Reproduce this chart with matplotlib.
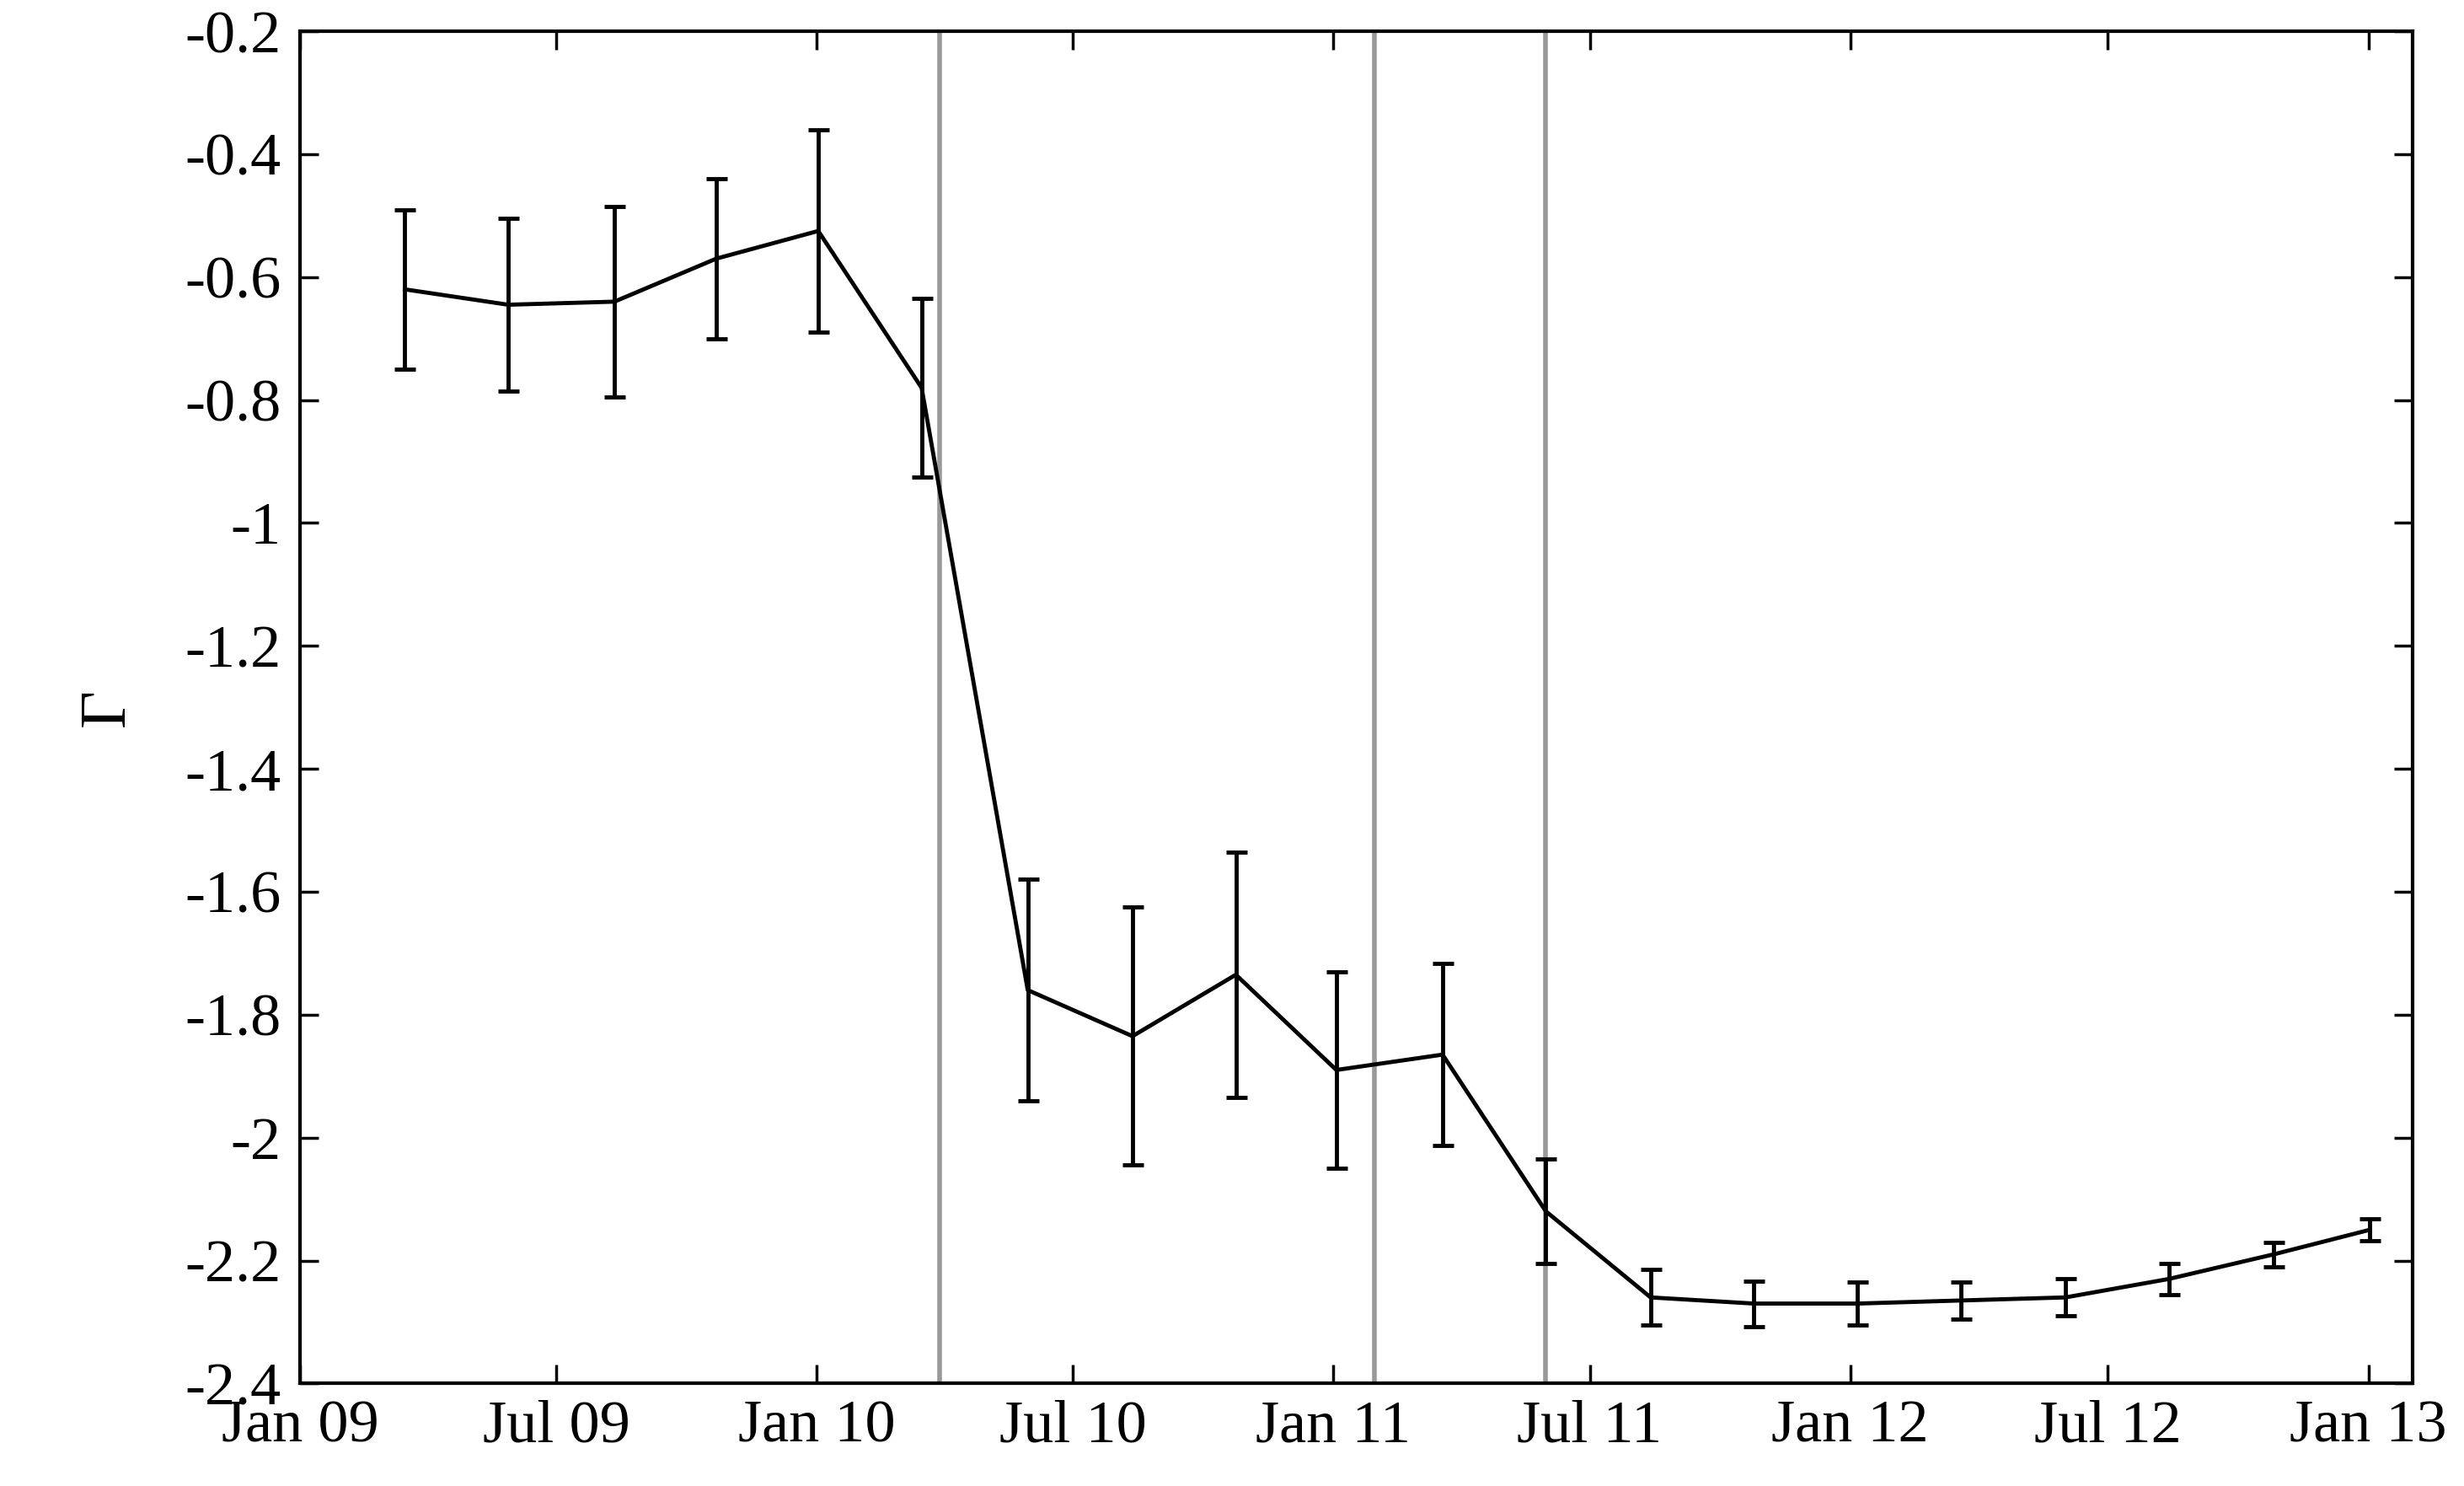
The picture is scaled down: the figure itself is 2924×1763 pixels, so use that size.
import matplotlib
matplotlib.use("Agg")
import matplotlib.pyplot as plt
import numpy as np
import pandas as pd

dates = ["2009-03-16","2009-05-28","2009-08-11","2009-10-22","2010-01-02","2010-03-16",
         "2010-05-30","2010-08-12","2010-10-24","2011-01-03","2011-03-19","2011-05-31",
         "2011-08-13","2011-10-25","2012-01-06","2012-03-19","2012-06-01","2012-08-13",
         "2012-10-26","2013-01-02"]
gamma = [-0.62,-0.645,-0.64,-0.57,-0.525,-0.78,-1.76,-1.835,-1.735,-1.89,-1.865,-2.12,
         -2.26,-2.27,-2.27,-2.265,-2.26,-2.23,-2.19,-2.15]
errors = [0.13,0.14,0.155,0.13,0.165,0.145,0.18,0.21,0.2,0.16,0.148,0.085,
          0.045,0.037,0.035,0.03,0.03,0.025,0.02,0.018]
vlines = ["2010-03-29","2011-01-30","2011-05-31"]
xticks = ["2009-01-01","2009-07-01","2010-01-01","2010-07-01","2011-01-01","2011-07-01",
          "2012-01-01","2012-07-01","2013-01-01"]
xticklabels = ["Jan 09","Jul 09","Jan 10","Jul 10","Jan 11","Jul 11","Jan 12","Jul 12","Jan 13"]
yticks = np.round(np.arange(-2.4, -0.19, 0.2), 1)

plt.rcParams['font.family'] = ['Liberation Serif', 'DejaVu Serif']
fig = plt.figure(figsize=(29.24, 17.63), dpi=100)
ax = fig.add_axes([0.1218, 0.069, 0.8572, 0.910])

x = pd.to_datetime(dates)
for v in vlines:
    ax.axvline(pd.Timestamp(v), color='#999999', lw=4, zorder=1)
ax.errorbar(x, gamma, yerr=errors, color='black', lw=3.5, elinewidth=3.5,
            capsize=9, capthick=3.5, zorder=3)

ax.set_xlim(pd.Timestamp("2009-01-01"), pd.Timestamp("2013-02-01"))
ax.set_ylim(-2.4, -0.2)
ax.set_xticks(pd.to_datetime(xticks))
ax.set_xticklabels(xticklabels)
ax.set_yticks(yticks)
ax.set_yticklabels([("%g" % t) for t in yticks])
ax.tick_params(direction='in', length=16, width=2.5, labelsize=52, top=True, right=True)
ax.tick_params(axis='x', pad=14)
ax.tick_params(axis='y', pad=16)
for s in ax.spines.values():
    s.set_linewidth(3)
ax.set_ylabel("Γ", fontsize=56, labelpad=40)
fig.savefig("out.png", dpi=100)
